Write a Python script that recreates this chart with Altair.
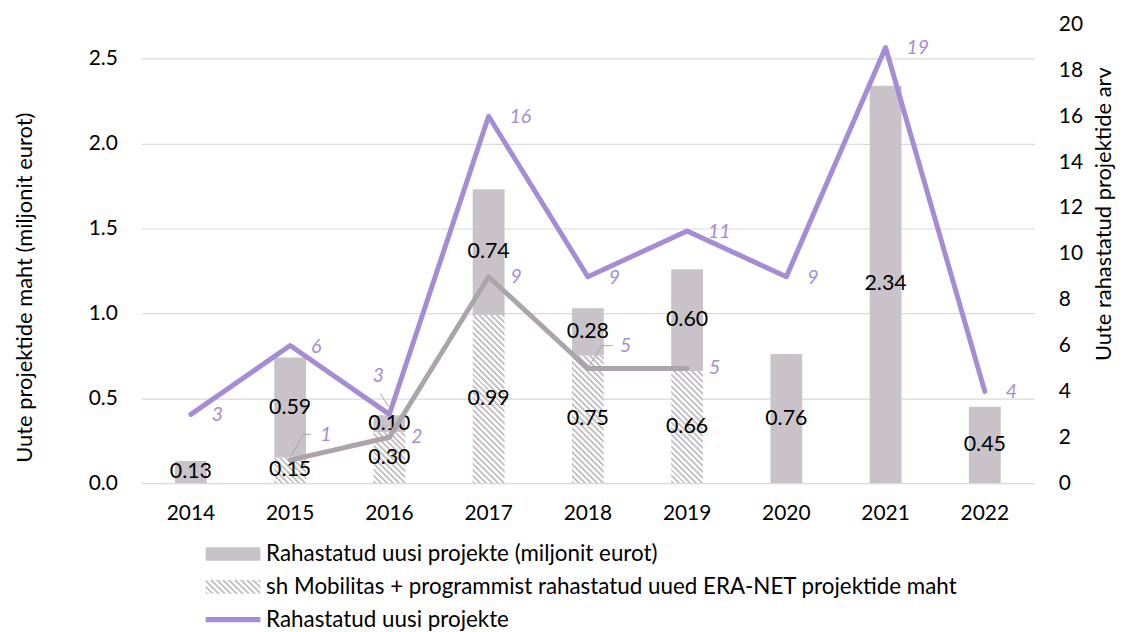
import json
import altair as alt
import pandas as pd

# ---- data ----
years = ["2014", "2015", "2016", "2017", "2018", "2019", "2020", "2021", "2022"]
funded_meur = [0.13, 0.59, 0.10, 0.74, 0.28, 0.60, 0.76, 2.34, 0.45]     # solid part
mobilitas_meur = [0.0, 0.15, 0.30, 0.99, 0.75, 0.66, 0.0, 0.0, 0.0]     # hatched part
projects = [3, 6, 3, 16, 9, 11, 9, 19, 4]
mobilitas_projects = [None, 1, 2, 9, 5, 5, None, None, None]

LEG = [
    "Rahastatud uusi projekte (miljonit eurot)",
    "sh Mobilitas + programmist rahastatud uued ERA-NET projektide maht",
    "Rahastatud uusi projekte",
]

df = pd.DataFrame({
    "year": years,
    "solid": funded_meur,
    "hatched": mobilitas_meur,
    "count": projects,
    "mcount": mobilitas_projects,
})

FONT = "Lato"
BAR = "#C9C3C9"
INK = "#CBC6CB"
PURPLE = "#A68BD5"
GREYLINE = "#ABA5AB"
LEADER = "#A6A6A6"
W, H = 898, 461
LMAX = 2.7
BARW = 32
TICKFS = 21
LEGFS = 22.5


def hatch_fill(w, h, period=6.0, ink=INK, paper="#FFFFFF"):
    span = w + h
    s = span * w / (w * w + h * h)
    stops = []
    k = 0
    while k * period < span:
        a = k * period / span
        b = min((k + 0.5) * period / span, 1.0)
        c = min((k + 1) * period / span, 1.0)
        stops += [{"offset": a, "color": ink}, {"offset": b, "color": ink},
                  {"offset": b, "color": paper}, {"offset": c, "color": paper}]
        k += 1
    return {"gradient": "linear", "x1": 0, "y1": 1, "x2": s, "y2": 1 - s * h / w,
            "stops": stops}


x_axis = alt.Axis(labelFont=FONT, labelFontSize=TICKFS, labelColor="#000000",
                  labelAngle=0, ticks=False, tickSize=0, domain=False,
                  labelPadding=20, grid=False)
x_enc = alt.X("year:N", title=None, axis=x_axis)

left_axis = alt.Axis(values=[0, 0.5, 1.0, 1.5, 2.0, 2.5], format=".1f", grid=True,
                     gridColor="#D9D9D9", gridWidth=1.2, domain=False, ticks=False, tickSize=0,
                     labelPadding=24, labelFont=FONT, labelFontSize=TICKFS, labelColor="#000000",
                     title="Uute projektide maht (miljonit eurot)", titleFont=FONT,
                     titleFontSize=22, titleFontWeight="normal", titleColor="#000000",
                     titleAngle=270, titleBaseline="alphabetic", titleX=-110, titleY=264)
left_scale = alt.Scale(domain=[0, LMAX], nice=False, zero=True)

right_axis = alt.Axis(orient="right", values=list(range(0, 21, 2)), grid=False,
                      domain=False, ticks=False, tickSize=0, labelPadding=24,
                      labelFont=FONT, labelFontSize=TICKFS, labelColor="#000000",
                      title="Uute rahastatud projektide arv", titleFont=FONT,
                      titleFontSize=22, titleFontWeight="normal", titleColor="#000000",
                      titleAngle=270, titleBaseline="alphabetic", titleX=76, titleY=190)
right_scale = alt.Scale(domain=[0, 20], nice=False, zero=True)


def yl(field):
    return alt.Y(field, type="quantitative", scale=left_scale, axis=left_axis,
                 title="Uute projektide maht (miljonit eurot)")


def yr(field):
    return alt.Y(field, type="quantitative", scale=right_scale, axis=right_axis,
                 title="Uute rahastatud projektide arv")


is_line = f"datum.value === {json.dumps(LEG[2])}"
legend = alt.Legend(
    title=None, orient="none", legendX=81, legendY=521, direction="vertical",
    columns=1, symbolSize=3025, labelFont=FONT, labelFontSize=LEGFS,
    labelColor="#000000", labelOffset=22, symbolOffset=0, rowPadding=10, labelLimit=1000,
    symbolOpacity=1,
    symbolType={"expr": f"{is_line} ? 'M-1,0H1' : 'M-1,-0.25H1V0.25H-1Z'"},
    symbolStrokeColor={"expr": f"{is_line} ? '{PURPLE}' : 'transparent'"},
    symbolStrokeWidth={"expr": f"{is_line} ? 5.5 : 0"},
)

color_range = [BAR, {"expr": json.dumps(hatch_fill(55, 14))}, PURPLE]

base = alt.Chart()

solid = base.mark_bar(size=BARW).transform_calculate(
    top="datum.hatched + datum.solid", series=f"{json.dumps(LEG[0])}"
).encode(
    x=x_enc, y=yl("hatched"), y2="top:Q",
    color=alt.Color("series:N", scale=alt.Scale(domain=LEG, range=color_range),
                    legend=legend),
)

hatched_layers = []
for yv, hv in zip(years, mobilitas_meur):
    if hv > 0:
        hpx = hv / LMAX * H
        hatched_layers.append(
            base.mark_bar(size=BARW, fill=hatch_fill(BARW, hpx))
            .transform_filter(alt.datum.year == yv)
            .encode(x=x_enc, y=yl("hatched"))
        )

txt = dict(font=FONT, fontSize=21.5, color="#000000", baseline="middle", align="center")
solid_lbl = base.mark_text(**txt).transform_calculate(
    mid="datum.hatched + datum.solid / 2"
).encode(x=x_enc, y=yl("mid"), text=alt.Text("solid:Q", format=".2f"))

hatched_lbl = base.mark_text(**txt).transform_filter("datum.hatched > 0").transform_calculate(
    mid2="datum.hatched / 2"
).encode(x=x_enc, y=yl("mid2"), text=alt.Text("hatched:Q", format=".2f"))

left = alt.layer(solid, *hatched_layers, solid_lbl, hatched_lbl)

grey_line = base.mark_line(color=GREYLINE, strokeWidth=5, strokeCap="round",
                           strokeJoin="round").transform_filter("isValid(datum.mcount)").encode(
    x=x_enc, y=yr("mcount"))
purple_line = base.mark_line(color=PURPLE, strokeWidth=5, strokeCap="round",
                             strokeJoin="round").encode(x=x_enc, y=yr("count"))

lab = dict(font=FONT, fontSize=19.5, fontStyle="italic", color=PURPLE, baseline="middle")


def leader(field, yv, xo, yo, x2o, y2o):
    return base.mark_rule(color=LEADER, strokeWidth=1, xOffset=xo, yOffset=yo,
                          x2Offset=x2o, y2Offset=y2o).transform_filter(
        alt.datum.year == yv).encode(
        x=alt.X("year:N", bandPosition=0.5, axis=x_axis, title=None),
        x2=alt.X2("year", bandPosition=0.5),
        y=yr(field), y2=alt.Y2(field))


leaders = [
    leader("count", "2016", -1, -8, -9, -21),
    leader("mcount", "2015", 1, -4, 13, -26),
    leader("mcount", "2015", 13, -26, 21, -26),
    leader("mcount", "2018", 1, -2, 14, -23),
    leader("mcount", "2018", 14, -23, 25, -23),
]

p_lbl = base.mark_text(align="left", dx=21, dy=1, **lab).transform_filter(
    alt.datum.year != "2016").encode(x=x_enc, y=yr("count"), text="count:Q")
p_lbl16 = base.mark_text(align="center", dx=-11, dy=-39, **lab).transform_filter(
    alt.datum.year == "2016").encode(x=x_enc, y=yr("count"), text="count:Q")
g_lbl = base.mark_text(align="left", dx=22, dy=0, **lab).transform_filter(
    "isValid(datum.mcount) && datum.year != '2015' && datum.year != '2018'").encode(
    x=x_enc, y=yr("mcount"), text="mcount:Q")
g_lbl15 = base.mark_text(align="center", dx=36, dy=-25, **lab).transform_filter(
    alt.datum.year == "2015").encode(x=x_enc, y=yr("mcount"), text="mcount:Q")
g_lbl18 = base.mark_text(align="center", dx=38, dy=-23, **lab).transform_filter(
    alt.datum.year == "2018").encode(x=x_enc, y=yr("mcount"), text="mcount:Q")

right = alt.layer(grey_line, purple_line, *leaders, p_lbl, p_lbl16, g_lbl, g_lbl15, g_lbl18)

chart = alt.layer(left, right, data=df).resolve_scale(y="independent").properties(
    width=W, height=H,
    background="white",
    autosize=alt.AutoSizeParams(type="none"),
    padding={"left": 134, "top": 15, "right": 82, "bottom": 148},
).configure_view(stroke=None).configure_axisX(grid=False)

chart.save("out.html", embed_options={"renderer": "svg", "actions": False})
